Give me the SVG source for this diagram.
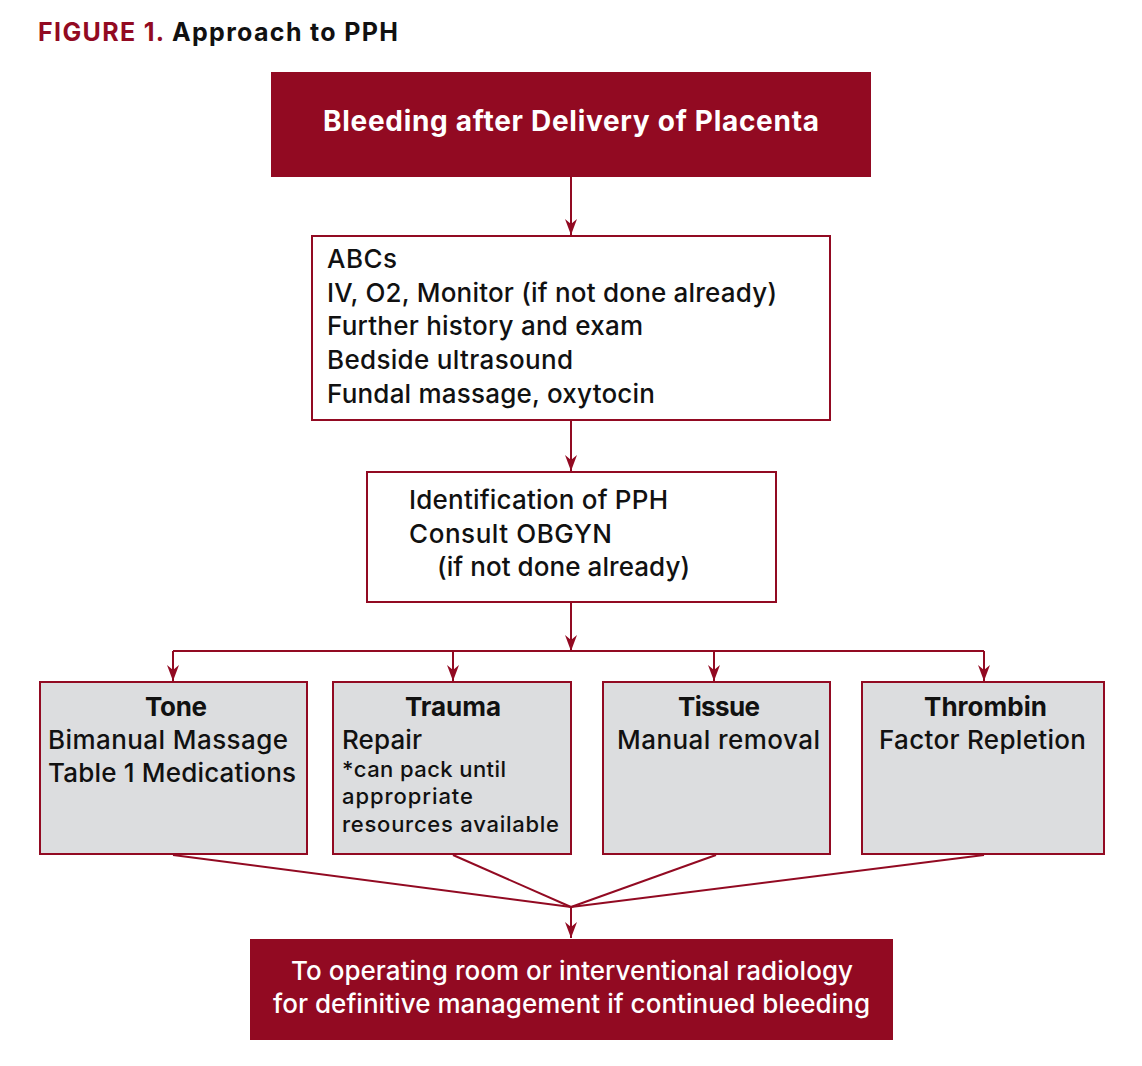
<svg xmlns="http://www.w3.org/2000/svg" width="1142" height="1066" viewBox="0 0 1142 1066">
<style>
.t{font-family:Inter,"Open Sans","Liberation Sans",sans-serif;fill:#111;}
.b{font-weight:700;}
.m{font-weight:500;}
.w{fill:#fff;}
.red{fill:#920A22;}
.wb{fill:#fff;stroke:#920A22;stroke-width:2;}
.gb{fill:#DCDDDF;stroke:#920A22;stroke-width:2;}
.ln{fill:none;stroke:#920A22;stroke-width:2;}
</style>
<defs>
<marker id="ah" markerUnits="userSpaceOnUse" markerWidth="16" markerHeight="12" refX="16" refY="6" orient="auto">
<path d="M0,0 L16,6 L0,12 L5,6 Z" fill="#920A22"/>
</marker>
</defs>
<rect width="1142" height="1066" fill="#fff"/>
<text x="38" y="41" class="t b" font-size="25" textLength="360" lengthAdjust="spacing"><tspan fill="#920A22">FIGURE 1.</tspan> Approach to PPH</text>

<g id="connectors">
<line class="ln" x1="571" y1="177" x2="571" y2="235" marker-end="url(#ah)"/>
<line class="ln" x1="571" y1="420" x2="571" y2="471" marker-end="url(#ah)"/>
<line class="ln" x1="571" y1="602" x2="571" y2="651" marker-end="url(#ah)"/>
<polyline class="ln" points="173,651 984,651"/>
<line class="ln" x1="173" y1="651" x2="173" y2="681" marker-end="url(#ah)"/>
<line class="ln" x1="453" y1="651" x2="453" y2="681" marker-end="url(#ah)"/>
<line class="ln" x1="714" y1="651" x2="714" y2="681" marker-end="url(#ah)"/>
<line class="ln" x1="984" y1="651" x2="984" y2="681" marker-end="url(#ah)"/>
<line class="ln" x1="173" y1="855" x2="571" y2="907"/>
<line class="ln" x1="453" y1="855" x2="571" y2="907"/>
<line class="ln" x1="716" y1="855" x2="571" y2="907"/>
<line class="ln" x1="984" y1="855" x2="571" y2="907"/>
<line class="ln" x1="571" y1="907" x2="571" y2="938" marker-end="url(#ah)"/>
</g>

<g id="n-bleeding">
<rect class="red" x="271" y="72" width="600" height="105"/>
<text class="t b w" x="323" y="131" font-size="28" textLength="496" lengthAdjust="spacing">Bleeding after Delivery of Placenta</text>
</g>

<g id="n-abcs">
<rect class="wb" x="312" y="236" width="518" height="184"/>
<g class="t m" font-size="26">
<text x="327" y="268" textLength="70" lengthAdjust="spacing">ABCs</text>
<text x="327" y="302" textLength="450" lengthAdjust="spacing">IV, O2, Monitor (if not done already)</text>
<text x="327" y="335" textLength="316" lengthAdjust="spacing">Further history and exam</text>
<text x="327" y="369" textLength="246" lengthAdjust="spacing">Bedside ultrasound</text>
<text x="327" y="403" textLength="328" lengthAdjust="spacing">Fundal massage, oxytocin</text>
</g>
</g>

<g id="n-identification">
<rect class="wb" x="367" y="472" width="409" height="130"/>
<g class="t m" font-size="26">
<text x="409" y="509" textLength="259" lengthAdjust="spacing">Identification of PPH</text>
<text x="409" y="543" textLength="203" lengthAdjust="spacing">Consult OBGYN</text>
<text x="437" y="576" textLength="253" lengthAdjust="spacing">(if not done already)</text>
</g>
</g>

<g id="n-tone">
<rect class="gb" x="40" y="682" width="267" height="172"/>
<text class="t b" x="145" y="716" font-size="26" textLength="62" lengthAdjust="spacing">Tone</text>
<g class="t m" font-size="26">
<text x="48" y="749" textLength="240" lengthAdjust="spacing">Bimanual Massage</text>
<text x="48" y="782" textLength="248" lengthAdjust="spacing">Table 1 Medications</text>
</g>
</g>

<g id="n-trauma">
<rect class="gb" x="333" y="682" width="238" height="172"/>
<text class="t b" x="405" y="716" font-size="26" textLength="96" lengthAdjust="spacing">Trauma</text>
<text class="t m" x="342" y="749" font-size="26" textLength="80" lengthAdjust="spacing">Repair</text>
<g class="t m" font-size="22">
<text x="342" y="777" textLength="164" lengthAdjust="spacing">*can pack until</text>
<text x="342" y="804" textLength="131" lengthAdjust="spacing">appropriate</text>
<text x="342" y="832" textLength="217" lengthAdjust="spacing">resources available</text>
</g>
</g>

<g id="n-tissue">
<rect class="gb" x="603" y="682" width="227" height="172"/>
<text class="t b" x="678" y="716" font-size="26" textLength="82" lengthAdjust="spacing">Tissue</text>
<text class="t m" x="617" y="749" font-size="26" textLength="203" lengthAdjust="spacing">Manual removal</text>
</g>

<g id="n-thrombin">
<rect class="gb" x="862" y="682" width="242" height="172"/>
<text class="t b" x="924" y="716" font-size="26" textLength="123" lengthAdjust="spacing">Thrombin</text>
<text class="t m" x="879" y="749" font-size="26" textLength="207" lengthAdjust="spacing">Factor Repletion</text>
</g>

<g id="n-or">
<rect class="red" x="250" y="939" width="643" height="101"/>
<g class="t m w" font-size="26">
<text x="291" y="980" textLength="562" lengthAdjust="spacing">To operating room or interventional radiology</text>
<text x="273" y="1013" textLength="597" lengthAdjust="spacing">for definitive management if continued bleeding</text>
</g>
</g>
</svg>
